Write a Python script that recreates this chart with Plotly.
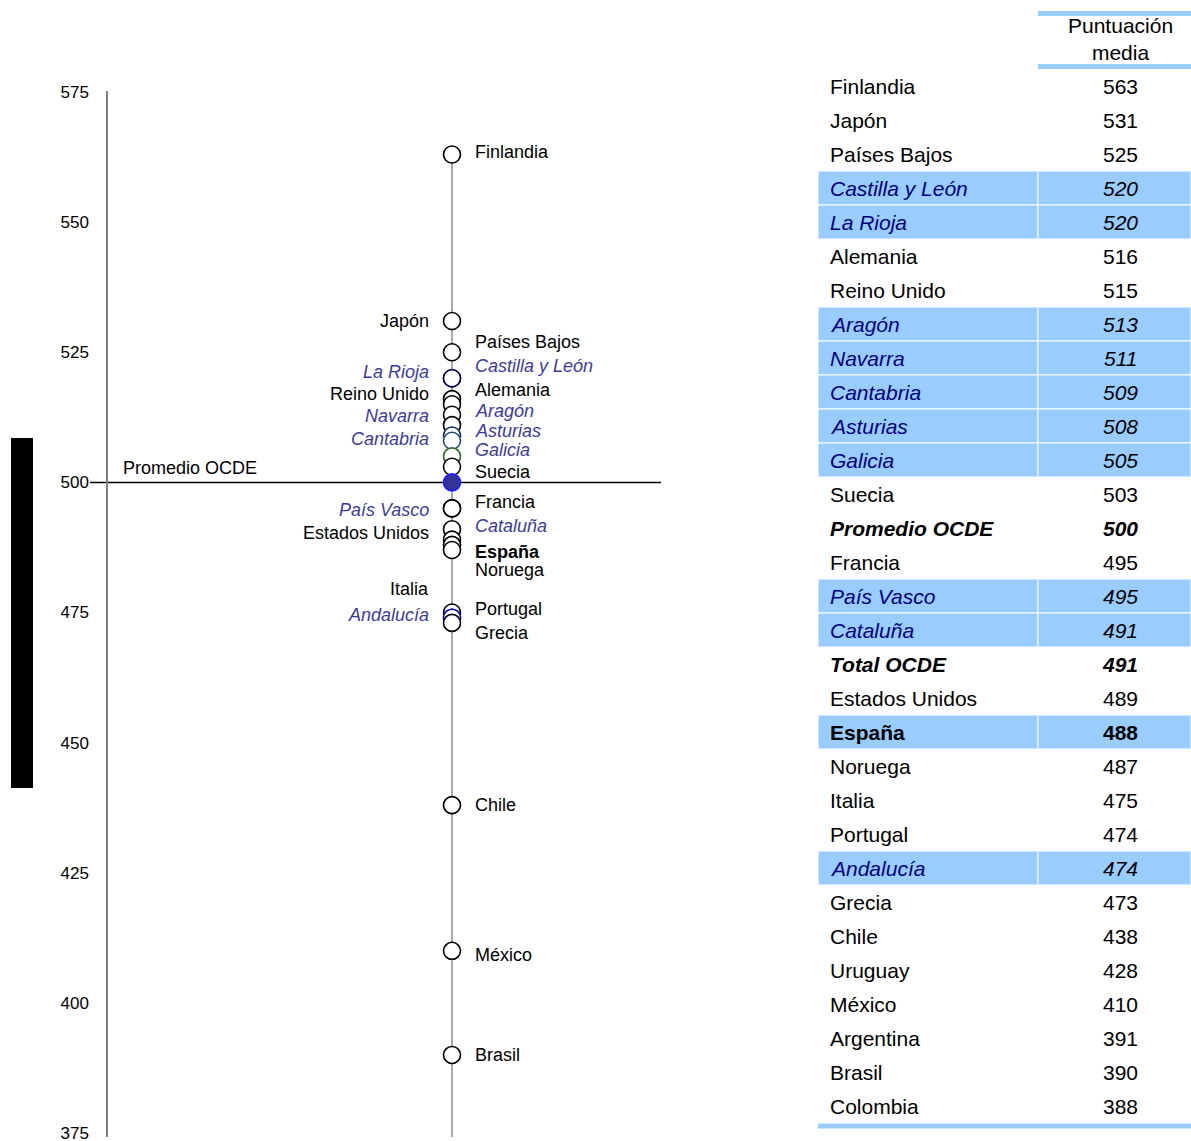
import plotly.graph_objects as go

# ---------------- data ----------------
countries = ["Finlandia", "Japón", "Países Bajos", "Castilla y León", "La Rioja", "Alemania",
             "Reino Unido", "Aragón", "Navarra", "Cantabria", "Asturias", "Galicia", "Suecia",
             "Promedio OCDE", "Francia", "País Vasco", "Cataluña", "Total OCDE", "Estados Unidos",
             "España", "Noruega", "Italia", "Portugal", "Andalucía", "Grecia", "Chile", "Uruguay",
             "México", "Argentina", "Brasil", "Colombia"]
scores = [563, 531, 525, 520, 520, 516, 515, 513, 511, 509, 508, 505, 503, 500, 495, 495, 491,
          491, 489, 488, 487, 475, 474, 474, 473, 438, 428, 410, 391, 390, 388]
kinds = ["pais", "pais", "pais", "region", "region", "pais", "pais", "region", "region", "region",
         "region", "region", "pais", "ocde", "pais", "region", "region", "ocde", "pais", "espana",
         "pais", "pais", "pais", "region", "pais", "pais", "pais", "pais", "pais", "pais", "pais"]
in_chart = [True, True, True, True, True, True, True, True, True, True, True, True, True, True,
            True, True, True, False, True, True, True, True, True, True, True, True, False,
            True, False, True, False]
y_ticks = [375, 400, 425, 450, 475, 500, 525, 550, 575]
header = "Puntuación<br>media"

# ---------------- layout config ----------------
W, H = 1191, 1141
FONT = "Liberation Sans, Arial, sans-serif"
REGION_LABEL = "#3b3b9c"
NAVY = "#000080"
HL = "#99ccff"

# label side and vertical nudge (px) in the chart
label_cfg = {
    "Finlandia": ("R", 2), "Japón": ("L", 0), "Países Bajos": ("R", 10),
    "Castilla y León": ("R", 12), "La Rioja": ("L", 6), "Alemania": ("R", 9),
    "Reino Unido": ("L", 10), "Aragón": ("R", 4), "Navarra": ("L", 9),
    "Cantabria": ("L", -3), "Asturias": ("R", 10), "Galicia": ("R", 6),
    "Suecia": ("R", -5), "Promedio OCDE": ("FAR", 14), "Francia": ("R", 6),
    "País Vasco": ("L", -2), "Cataluña": ("R", 3), "Estados Unidos": ("L", 7),
    "España": ("R", -7), "Noruega": ("R", -20), "Italia": ("L", 24),
    "Portugal": ("R", 9), "Andalucía": ("L", 3), "Grecia": ("R", -10),
    "Chile": ("R", 0), "México": ("R", -4), "Brasil": ("R", 0),
}
marker_line = {"La Rioja": "#000060", "Cantabria": "#0a2a5a", "Asturias": "#1f4e79",
               "Galicia": "#2e6b2e", "Andalucía": "#1010d0", "Promedio OCDE": "#2020ff"}
marker_fill = {"Promedio OCDE": "#333399"}

# pixel geometry of the value axis
PX_575, PX_375 = 92, 1133
ppu = (PX_375 - PX_575) / 200.0
def val_at(p):
    return 575 - (p - PX_575) / ppu
AX_TOP, AX_BOT = 91, 1137
X_DOTS = 452
AX_X = 107

fig = go.Figure()

# ---------------- chart ----------------
cx = [c for c, f in zip(countries, in_chart) if f]
cy = [s for s, f in zip(scores, in_chart) if f]

fig.add_shape(type="line", xref="x", yref="y", x0=0, x1=0, y0=max(cy), y1=val_at(AX_BOT + 4),
              line=dict(color="#555555", width=1), layer="below")
ocde = scores[countries.index("Promedio OCDE")]
fig.add_shape(type="line", xref="paper", yref="y", x0=90 / W, x1=661 / W, y0=ocde, y1=ocde,
              line=dict(color="black", width=1.5), layer="below")

fig.add_trace(go.Scatter(
    x=[0] * len(cy), y=cy, mode="markers", cliponaxis=False, hoverinfo="text", text=cx,
    marker=dict(size=17,
                color=[marker_fill.get(c, "white") for c in cx],
                line=dict(color=[marker_line.get(c, "black") for c in cx], width=1.6)),
    showlegend=False, xaxis="x", yaxis="y"))

for c, s, k, f in zip(countries, scores, kinds, in_chart):
    if not f:
        continue
    side, dy = label_cfg[c]
    txt = c
    color = "black"
    if k == "region":
        txt = "<i>%s</i>" % c
        color = REGION_LABEL
    elif k == "espana":
        txt = "<b>%s</b>" % c
    ann = dict(y=s, yref="y", text=txt, showarrow=False, yshift=dy,
               font=dict(family=FONT, size=18, color=color))
    if side == "R":
        ann.update(x=0, xref="x", xanchor="left", xshift=21)
    elif side == "L":
        ann.update(x=0, xref="x", xanchor="right", xshift=-21)
    else:
        ann.update(x=121 / W, xref="paper", xanchor="left")
    fig.add_annotation(**ann)

# black bar on the left
fig.add_shape(type="rect", xref="paper", yref="paper", x0=11 / W, x1=33 / W,
              y0=1 - 788 / H, y1=1 - 438 / H, fillcolor="black", line=dict(width=0))

# ---------------- table ----------------
ROW0, ROWH = 86, 34
def row_at(p):
    return (p - ROW0) / ROWH
SPLIT = (1038 - 818) / (W - 818)
VALX = (1120 - 818) / (W - 818)
NAMEX = (828 - 818) / (W - 818)

for i, (c, s, k) in enumerate(zip(countries, scores, kinds)):
    if k in ("region", "espana"):
        for a, b in ((0, SPLIT), (SPLIT, 1)):
            fig.add_shape(type="rect", xref="x2", yref="y2", x0=a, x1=b, y0=i - 0.5, y1=i + 0.5,
                          fillcolor=HL, line=dict(color="white", width=1), layer="below")
    if k == "region":
        nt, vt, nc = "<i>%s</i>" % c, "<i>%d</i>" % s, NAVY
    elif k == "espana":
        nt, vt, nc = "<b>%s</b>" % c, "<b>%d</b>" % s, "black"
    elif k == "ocde":
        nt, vt, nc = "<b><i>%s</i></b>" % c, "<b><i>%d</i></b>" % s, "black"
    else:
        nt, vt, nc = c, "%d" % s, "black"
    fig.add_annotation(x=NAMEX, y=i, xref="x2", yref="y2", text=nt, showarrow=False,
                       xanchor="left", font=dict(family=FONT, size=21, color=nc))
    fig.add_annotation(x=VALX, y=i, xref="x2", yref="y2", text=vt, showarrow=False,
                       xanchor="center", font=dict(family=FONT, size=21, color="black"))

fig.add_annotation(x=VALX, y=row_at(39), xref="x2", yref="y2", text=header, showarrow=False,
                   xanchor="center", font=dict(family=FONT, size=21, color="black"))
for p, a in ((13.5, SPLIT), (66.5, SPLIT), (1126, 0)):
    fig.add_shape(type="line", xref="x2", yref="y2", x0=a, x1=1, y0=row_at(p), y1=row_at(p),
                  line=dict(color=HL, width=5))

# dummy trace so the table axes exist
fig.add_trace(go.Scatter(x=[0], y=[0], mode="markers", marker=dict(opacity=0), hoverinfo="skip",
                         showlegend=False, xaxis="x2", yaxis="y2"))

fig.update_layout(
    width=W, height=H, margin=dict(l=0, r=0, t=0, b=0, autoexpand=False),
    paper_bgcolor="white", plot_bgcolor="rgba(0,0,0,0)", showlegend=False,
    xaxis=dict(domain=[0, 1], range=[-X_DOTS, W - X_DOTS], visible=False, fixedrange=True),
    yaxis=dict(domain=[1 - AX_BOT / H, 1 - AX_TOP / H], range=[val_at(AX_BOT), val_at(AX_TOP)],
               anchor="free", position=AX_X / W, showline=True, linecolor="#808080", linewidth=1.5,
               showgrid=False, zeroline=False, tickvals=y_ticks, ticks="", automargin=False,
               ticklabelstandoff=14, ticklabeloverflow="allow",
               tickfont=dict(family=FONT, size=17, color="black"), fixedrange=True),
    xaxis2=dict(domain=[818 / W, 1], range=[0, 1], visible=False, anchor="y2", fixedrange=True),
    yaxis2=dict(domain=[0, 1], range=[row_at(H), row_at(0)], visible=False, anchor="x2",
                fixedrange=True),
)

fig.write_html(
    "out.html",
    config={"displayModeBar": False},
    post_script=("document.body.style.margin='0';document.body.style.overflow='hidden';"
                 "var d=document.getElementById('{plot_id}');"
                 "d.style.position='absolute';d.style.top='0px';d.style.left='0px';"),
)
